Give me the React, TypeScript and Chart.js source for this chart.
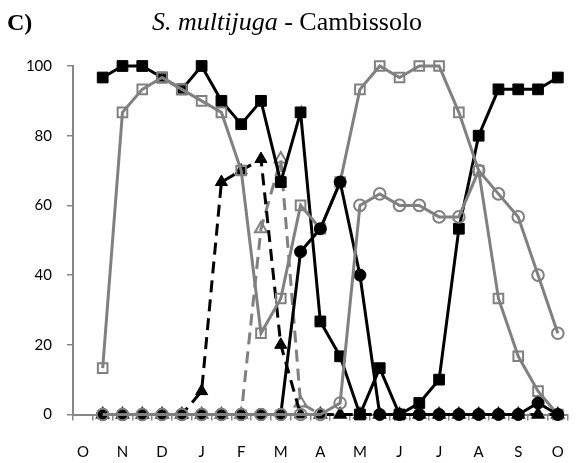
import { useEffect, useRef } from "react";
import { Chart, registerables } from "chart.js";

Chart.register(...registerables);

// Month labels on every other half-month category
const monthLabels = ["O", "", "N", "", "D", "", "J", "", "F", "", "M", "", "A", "", "M", "", "J", "", "J", "", "A", "", "S", "", "O"];
const yTicks = [0, 20, 40, 60, 80, 100];

// Half-monthly percentages (first category is empty)
const blackSquares = [96.7, 100, 100, 96.7, 93.3, 100, 90, 83.3, 90, 66.7, 86.7, 26.7, 16.7, 0, 13.3, 0, 3.3, 10, 53.3, 80, 93.3, 93.3, 93.3, 96.7];
const graySquares = [13.3, 86.7, 93.3, 96.7, 93.3, 90, 86.7, 70, 23.3, 33.3, 60, 53.3, 66.7, 93.3, 100, 96.7, 100, 100, 86.7, 70, 33.3, 16.7, 6.7, 0];
const blackCircles = [0, 0, 0, 0, 0, 0, 0, 0, 0, 0, 46.7, 53.3, 66.7, 40, 0, 0, 0, 0, 0, 0, 0, 0, 3.3, 0];
const grayCircles = [0, 0, 0, 0, 0, 0, 0, 0, 0, 0, 0, 0, 3.3, 60, 63.3, 60, 60, 56.7, 56.7, 70, 63.3, 56.7, 40, 23.3];
const blackTriangles = [0, 0, 0, 0, 0, 6.7, 66.7, 70, 73.3, 20, 0, 0, 0, 0, 0, 0, 0, 0, 0, 0, 0, 0, 0, 0];
const grayTriangles = [0, 0, 0, 0, 0, 0, 0, 0, 53.3, 73.3, 3.3, 0, 0, 0, 0, 0, 0, 0, 0, 0, 0, 0, 0, 0];

const BLACK = "#000000";
const GRAY = "#808080";
const AXIS = "#868686";
const NONE = "rgba(0,0,0,0)";
const TICK_FONT = { family: "Lato, 'Open Sans', sans-serif", size: 15 };

const shift = (arr: number[]) => [null, ...arr];

const titlePlugin = {
  id: "panelTitle",
  afterDraw(chart: Chart) {
    const ctx = chart.ctx;
    ctx.save();
    ctx.fillStyle = "#000";
    ctx.textBaseline = "alphabetic";
    ctx.textAlign = "left";
    const base = 30;
    ctx.font = "bold 24px 'Liberation Serif', serif";
    ctx.fillText("C)", 7, base);
    let x = 152;
    ctx.font = "italic 26px 'Liberation Serif', serif";
    ctx.fillText("S. multijuga", x, base);
    x += ctx.measureText("S. multijuga").width;
    ctx.font = "26px 'Liberation Serif', serif";
    ctx.fillText(" - Cambissolo", x, base);
    ctx.restore();
  },
};

export default function App() {
  const canvasRef = useRef<HTMLCanvasElement | null>(null);

  useEffect(() => {
    if (!canvasRef.current) return;
    const common = { clip: false as const, tension: 0, spanGaps: false };
    const chart = new Chart(canvasRef.current, {
      type: "line",
      data: {
        labels: monthLabels,
        datasets: [
          {
            ...common,
            data: shift(grayCircles),
            borderColor: GRAY,
            borderWidth: 3,
            pointStyle: "circle",
            pointRadius: 5.8,
            pointBorderWidth: 2,
            pointBorderColor: GRAY,
            pointBackgroundColor: NONE,
          },
          {
            ...common,
            data: shift(blackCircles),
            borderColor: BLACK,
            borderWidth: 3,
            pointStyle: "circle",
            pointRadius: 6,
            pointBorderWidth: 1,
            pointBorderColor: BLACK,
            pointBackgroundColor: BLACK,
          },
          {
            ...common,
            data: shift(graySquares),
            borderColor: GRAY,
            borderWidth: 3,
            pointStyle: "rect",
            pointRadius: 6.8,
            pointBorderWidth: 2,
            pointBorderColor: GRAY,
            pointBackgroundColor: NONE,
          },
          {
            ...common,
            data: shift(blackSquares),
            borderColor: BLACK,
            borderWidth: 3,
            pointStyle: "rect",
            pointRadius: 7.6,
            pointBorderWidth: 1,
            pointBorderColor: BLACK,
            pointBackgroundColor: BLACK,
          },
          {
            ...common,
            data: shift(blackTriangles),
            borderColor: BLACK,
            borderWidth: 3,
            borderDash: [12, 7],
            pointStyle: "triangle",
            pointRadius: 7,
            pointBorderWidth: 1,
            pointBorderColor: BLACK,
            pointBackgroundColor: BLACK,
          },
          {
            ...common,
            data: shift(grayTriangles),
            borderColor: GRAY,
            borderWidth: 3,
            borderDash: [12, 7],
            pointStyle: "triangle",
            pointRadius: 7,
            pointBorderWidth: 2,
            pointBorderColor: GRAY,
            pointBackgroundColor: NONE,
          },
        ],
      },
      options: {
        animation: false,
        responsive: false,
        devicePixelRatio: 1,
        layout: { padding: { top: 66, right: 4, left: 0, bottom: 0 } },
        plugins: {
          legend: { display: false },
          tooltip: { enabled: false },
          title: { display: false },
        },
        elements: { point: { hoverRadius: 6 } },
        scales: {
          x: {
            type: "category",
            offset: true,
            grid: {
              display: true,
              drawOnChartArea: false,
              drawTicks: true,
              tickLength: 6,
              offset: true,
              color: AXIS,
              lineWidth: 1.5,
            },
            border: { display: true, color: AXIS, width: 2 },
            ticks: {
              autoSkip: false,
              maxRotation: 0,
              minRotation: 0,
              padding: 23,
              color: "#000",
              font: TICK_FONT,
            },
            afterFit: (s: any) => {
              s.height = 48.5;
            },
          },
          y: {
            min: 0,
            max: 100,
            afterBuildTicks: (s: any) => {
              s.ticks = yTicks.map((v) => ({ value: v }));
            },
            grid: {
              drawOnChartArea: false,
              drawTicks: true,
              tickLength: 6,
              color: AXIS,
              lineWidth: 1.5,
            },
            border: { display: true, color: AXIS, width: 2 },
            ticks: { padding: 15, color: "#000", font: TICK_FONT },
            afterFit: (s: any) => {
              s.width = 73;
            },
          },
        },
      },
      plugins: [titlePlugin],
    });
    return () => chart.destroy();
  }, []);

  return (
    <div style={{ position: "absolute", left: 0, top: 0, width: 587, height: 463, background: "#fff" }}>
      <canvas ref={canvasRef} width={587} height={463} style={{ width: 587, height: 463, display: "block" }} />
    </div>
  );
}
